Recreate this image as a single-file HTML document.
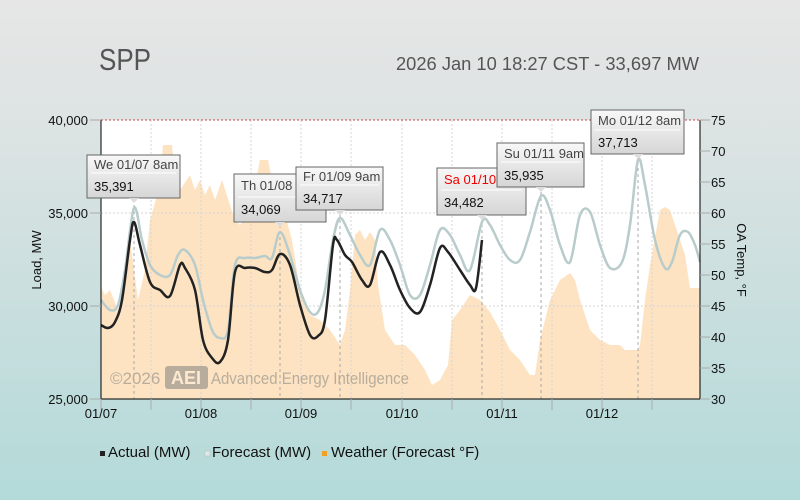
<!DOCTYPE html>
<html><head><meta charset="utf-8"><style>
html,body{margin:0;padding:0;width:800px;height:500px;overflow:hidden}
svg{display:block;font-family:"Liberation Sans","DejaVu Sans",sans-serif}
</style></head><body>
<svg id="chart" width="800" height="500" viewBox="0 0 800 500" xmlns="http://www.w3.org/2000/svg">
<defs>
<linearGradient id="bg" x1="0" y1="0" x2="0" y2="1">
<stop offset="0" stop-color="#e6e6e6"/><stop offset="0.25" stop-color="#dde3e3"/><stop offset="1" stop-color="#b3dad9"/>
</linearGradient>
<linearGradient id="tt" x1="0" y1="0" x2="0" y2="1">
<stop offset="0" stop-color="#f8f8f8"/><stop offset="1" stop-color="#d6d6d6"/>
</linearGradient>
</defs>
<rect width="800" height="500" fill="url(#bg)"/>
<text x="99" y="70" font-size="31" fill="#555" textLength="52" lengthAdjust="spacingAndGlyphs">SPP</text>
<text x="396" y="70" font-size="18" fill="#555" textLength="303" lengthAdjust="spacingAndGlyphs">2026 Jan 10 18:27 CST - 33,697 MW</text>
<rect x="101" y="120" width="599" height="279" fill="#fff"/>
<polygon fill="#fde3c2" points="101,399 101,287 105,295 110,290 118,310 125,290 130,240 138,300 145,270 150,220 160,185 163,145 172,145 175,180 180,190 190,175 195,190 200,180 205,195 210,185 215,200 222,180 230,205 235,220 240,225 250,210 260,160 268,160 272,180 278,200 285,215 292,240 300,290 310,315 320,320 330,330 340,345 345,330 350,290 355,235 360,230 365,240 370,232 375,240 378,285 385,330 395,345 405,345 415,355 425,370 432,385 440,380 448,365 452,320 460,310 470,295 480,300 490,312 500,330 510,350 520,360 530,375 535,375 540,340 550,300 560,280 570,273 575,280 580,300 590,330 600,340 610,345 620,345 625,350 638,350 640,345 645,300 650,265 660,210 665,207 670,210 675,225 685,255 690,288 700,288 700,399"/>
<g stroke="#d6d6d6" stroke-dasharray="2,2" stroke-width="1">
<line x1="101" y1="213" x2="700" y2="213"/><line x1="101" y1="306" x2="700" y2="306"/>
<line x1="151" y1="120" x2="151" y2="399"/><line x1="201" y1="120" x2="201" y2="399"/><line x1="251" y1="120" x2="251" y2="399"/><line x1="301" y1="120" x2="301" y2="399"/><line x1="351" y1="120" x2="351" y2="399"/><line x1="402" y1="120" x2="402" y2="399"/><line x1="452" y1="120" x2="452" y2="399"/><line x1="502" y1="120" x2="502" y2="399"/><line x1="552" y1="120" x2="552" y2="399"/><line x1="602" y1="120" x2="602" y2="399"/><line x1="652" y1="120" x2="652" y2="399"/>
</g>
<g stroke="#aaa" stroke-dasharray="3,3" stroke-width="1">
<line x1="134" y1="205" x2="134" y2="399"/><line x1="280" y1="225" x2="280" y2="399"/><line x1="340" y1="214" x2="340" y2="399"/><line x1="482" y1="218" x2="482" y2="399"/><line x1="541" y1="192" x2="541" y2="399"/><line x1="638" y1="156" x2="638" y2="399"/>
</g>
<line x1="101" y1="120" x2="700" y2="120" stroke="#c44" stroke-dasharray="2,2"/>
<polyline class="sm" fill="none" stroke="#b8cccb" stroke-width="2.5" stroke-linejoin="round" points="101,300 110,310 118,305 125,270 134,208 142,240 150,265 160,275 170,275 178,255 185,250 195,265 203,300 212,330 220,338 228,330 235,265 245,258 255,258 265,256 272,258 280,232 290,255 300,290 310,312 318,312 325,290 333,240 340,218 350,235 360,255 370,265 380,230 390,240 400,265 410,295 420,295 430,265 440,230 450,235 460,255 470,270 482,222 490,225 500,245 510,260 520,260 530,232 541,196 550,210 560,245 570,262 580,215 590,212 600,245 610,268 622,262 630,225 638,160 645,185 655,240 665,268 672,262 680,235 688,232 695,245 700,262"/>
<polyline class="sm" fill="none" stroke="#222" stroke-width="2.5" stroke-linejoin="round" points="101,325 108,328 115,322 122,300 130,240 134,222 140,245 150,282 160,290 170,296 180,265 185,268 195,290 203,340 212,358 220,362 228,340 235,272 245,268 255,268 265,272 272,270 280,254 290,265 300,305 310,335 318,336 325,320 333,245 337,240 345,255 352,262 362,280 370,285 380,252 390,265 400,290 410,308 420,312 430,285 440,248 448,252 460,270 470,285 476,288 482,240"/>
<line x1="101" y1="120" x2="101" y2="399" stroke="#000"/>
<line x1="700" y1="120" x2="700" y2="399" stroke="#000"/>
<line x1="101" y1="399" x2="700" y2="399" stroke="#000"/>
<g stroke="#aaa">
<line x1="90" y1="120" x2="101" y2="120"/><line x1="90" y1="213" x2="101" y2="213"/><line x1="90" y1="306" x2="101" y2="306"/><line x1="90" y1="399" x2="101" y2="399"/>
<line x1="700" y1="120" x2="710" y2="120"/><line x1="700" y1="151" x2="710" y2="151"/><line x1="700" y1="182" x2="710" y2="182"/><line x1="700" y1="213" x2="710" y2="213"/><line x1="700" y1="244" x2="710" y2="244"/><line x1="700" y1="275" x2="710" y2="275"/><line x1="700" y1="306" x2="710" y2="306"/><line x1="700" y1="337" x2="710" y2="337"/><line x1="700" y1="368" x2="710" y2="368"/><line x1="700" y1="399" x2="710" y2="399"/>
<line x1="101" y1="399" x2="101" y2="410"/><line x1="151" y1="399" x2="151" y2="410"/><line x1="201" y1="399" x2="201" y2="410"/><line x1="251" y1="399" x2="251" y2="410"/><line x1="301" y1="399" x2="301" y2="410"/><line x1="351" y1="399" x2="351" y2="410"/><line x1="402" y1="399" x2="402" y2="410"/><line x1="452" y1="399" x2="452" y2="410"/><line x1="502" y1="399" x2="502" y2="410"/><line x1="552" y1="399" x2="552" y2="410"/><line x1="602" y1="399" x2="602" y2="410"/><line x1="652" y1="399" x2="652" y2="410"/>
</g>
<g font-size="13" fill="#111" text-anchor="end">
<text x="88" y="125">40,000</text><text x="88" y="218">35,000</text><text x="88" y="311">30,000</text><text x="88" y="404">25,000</text>
</g>
<g font-size="13" fill="#111">
<text x="711" y="125">75</text><text x="711" y="156">70</text><text x="711" y="187">65</text><text x="711" y="218">60</text><text x="711" y="249">55</text><text x="711" y="280">50</text><text x="711" y="311">45</text><text x="711" y="342">40</text><text x="711" y="373">35</text><text x="711" y="404">30</text>
</g>
<g font-size="13" fill="#111" text-anchor="middle">
<text x="101" y="418">01/07</text><text x="201" y="418">01/08</text><text x="301" y="418">01/09</text><text x="402" y="418">01/10</text><text x="502" y="418">01/11</text><text x="602" y="418">01/12</text>
</g>
<text transform="translate(41,260) rotate(-90)" font-size="13" fill="#111" text-anchor="middle">Load, MW</text>
<text transform="translate(737,260) rotate(90)" font-size="13" fill="#111" text-anchor="middle">OA Temp, °F</text>
<text x="110" y="384" font-size="17" fill="#b8ad9c">©2026</text>
<rect x="165" y="366" width="43" height="23" rx="3" fill="#b8ad9c"/>
<text x="186" y="384" font-size="18" fill="#fde9d0" text-anchor="middle" font-weight="bold">AEI</text>
<text x="211" y="384" font-size="17" fill="#b8ad9c" textLength="198" lengthAdjust="spacingAndGlyphs">Advanced Energy Intelligence</text>
<g font-size="13">
<g><rect x="87" y="155" width="93" height="43" fill="url(#tt)" stroke="#666"/><line x1="91" y1="173" x2="176" y2="173" stroke="#fff"/><polygon points="129,198 139,198 134,203" fill="#ddd"/><text x="94" y="169" fill="#444">We 01/07 8am</text><text x="94" y="191" fill="#111">35,391</text></g>
<g><rect x="234" y="174" width="92" height="48" fill="url(#tt)" stroke="#666"/><line x1="238" y1="197" x2="322" y2="197" stroke="#fff"/><polygon points="275,222 285,222 280,227" fill="#ddd"/><text x="241" y="190" fill="#444">Th 01/08</text><text x="241" y="214" fill="#111">34,069</text></g>
<g><rect x="296" y="167" width="87" height="43" fill="url(#tt)" stroke="#666"/><line x1="300" y1="185" x2="379" y2="185" stroke="#fff"/><polygon points="335,210 345,210 340,215" fill="#ddd"/><text x="303" y="181" fill="#444">Fr 01/09 9am</text><text x="303" y="203" fill="#111">34,717</text></g>
<g><rect x="437" y="168" width="89" height="47" fill="url(#tt)" stroke="#666"/><line x1="441" y1="190" x2="522" y2="190" stroke="#fff"/><polygon points="477,215 487,215 482,220" fill="#ddd"/><text x="444" y="184" fill="#e00">Sa 01/10</text><text x="444" y="207" fill="#111">34,482</text></g>
<g><rect x="497" y="143" width="87" height="44" fill="url(#tt)" stroke="#666"/><line x1="501" y1="162" x2="580" y2="162" stroke="#fff"/><polygon points="536,187 546,187 541,192" fill="#ddd"/><text x="504" y="158" fill="#444">Su 01/11 9am</text><text x="504" y="180" fill="#111">35,935</text></g>
<g><rect x="591" y="110" width="93" height="44" fill="url(#tt)" stroke="#666"/><line x1="595" y1="130" x2="680" y2="130" stroke="#fff"/><polygon points="633,154 643,154 638,159" fill="#ddd"/><text x="598" y="125" fill="#444">Mo 01/12 8am</text><text x="598" y="147" fill="#111">37,713</text></g>
</g>
<g font-size="15" fill="#111">
<rect x="100" y="451" width="5" height="5" fill="#222"/><text x="108" y="457">Actual (MW)</text>
<rect x="205" y="451" width="5" height="5" fill="#e0e8e8" stroke="#bbb" stroke-width="0.5"/><text x="212" y="457">Forecast (MW)</text>
<rect x="322" y="451" width="5" height="5" fill="#f5a020"/><text x="331" y="457">Weather (Forecast °F)</text>
</g>
</svg>
<script>
document.querySelectorAll('polyline.sm').forEach(function(pl){
  var p=pl.getAttribute('points').trim().split(/\s+/).map(function(s){return s.split(',').map(Number);});
  var d='M'+p[0][0]+','+p[0][1];
  for(var i=0;i<p.length-1;i++){
    var p0=p[i-1]||p[i],p1=p[i],p2=p[i+1],p3=p[i+2]||p2,t=6;
    d+=' C'+(p1[0]+(p2[0]-p0[0])/t)+','+(p1[1]+(p2[1]-p0[1])/t)+' '+(p2[0]-(p3[0]-p1[0])/t)+','+(p2[1]-(p3[1]-p1[1])/t)+' '+p2[0]+','+p2[1];
  }
  var path=document.createElementNS('http://www.w3.org/2000/svg','path');
  ['fill','stroke','stroke-width','stroke-linejoin'].forEach(function(a){path.setAttribute(a,pl.getAttribute(a));});
  path.setAttribute('d',d);
  pl.parentNode.replaceChild(path,pl);
});
</script>
</body></html>
